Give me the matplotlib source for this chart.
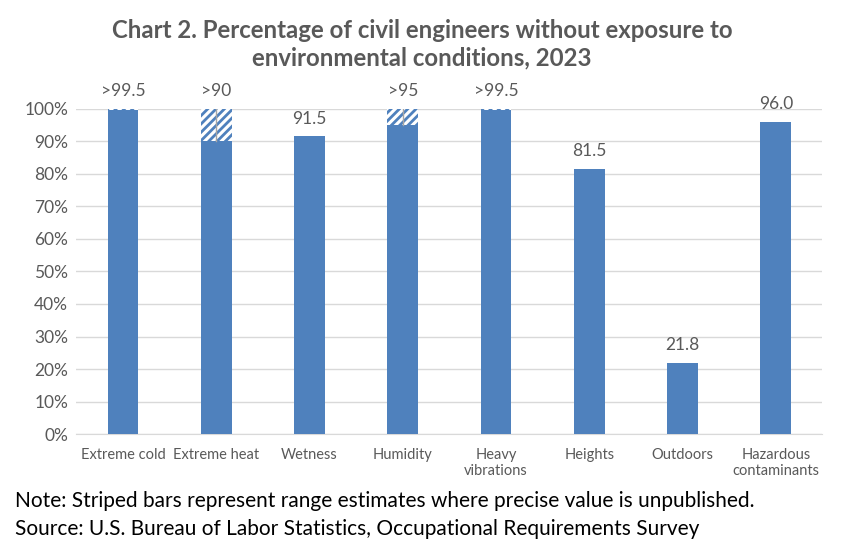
import numpy as np
import matplotlib.pyplot as plt

# ----- data -----
categories = ["Extreme cold", "Extreme heat", "Wetness", "Humidity",
              "Heavy\nvibrations", "Heights", "Outdoors", "Hazardous\ncontaminants"]
values = [99.5, 90.0, 91.5, 95.0, 99.5, 81.5, 21.8, 96.0]      # solid part (lower bound)
upper = [100.0, 100.0, None, 100.0, 100.0, None, None, None]  # range upper bound (striped)
labels = [">99.5", ">90", "91.5", ">95", ">99.5", "81.5", "21.8", "96.0"]

blue = "#4F81BD"
gray = "#595959"

plt.rcParams['font.family'] = ['Lato', 'DejaVu Sans']
plt.rcParams['hatch.color'] = blue
plt.rcParams['hatch.linewidth'] = 2.0

fig = plt.figure(figsize=(8.44, 5.44), dpi=100)
ax = fig.add_axes([0.0905, 0.202, 0.884, 0.598])

x = np.arange(len(categories))
w = 0.33
ax.bar(x, values, width=w, color=blue, zorder=3)

for i, up in enumerate(upper):
    if up is None:
        continue
    ax.bar(x[i], up - values[i], bottom=values[i], width=w, color="white",
           edgecolor=blue, hatch="////", linewidth=0, zorder=3)
    if up - values[i] > 1:
        ax.plot([x[i], x[i]], [values[i], up], color="#a6a6a6", lw=1, zorder=4)

for i, lab in enumerate(labels):
    top = upper[i] if upper[i] is not None else values[i]
    ax.text(x[i], top + 3, lab, ha="center", va="bottom", fontsize=12.5,
            color=gray, clip_on=False)

ax.set_xlim(-0.5, len(categories) - 0.5)
ax.set_ylim(0, 100)
ax.set_yticks(np.arange(0, 101, 10))
ax.set_yticklabels([f"{v}%" for v in range(0, 101, 10)])
ax.set_xticks(x)
ax.set_xticklabels(categories)
ax.tick_params(axis="y", length=0, labelsize=12.5, labelcolor=gray, pad=6)
ax.tick_params(axis="x", length=0, labelsize=10.5, labelcolor=gray, pad=10)
ax.grid(axis="y", color="#d9d9d9", lw=1, zorder=0)
for s in ["top", "right", "left"]:
    ax.spines[s].set_visible(False)
ax.spines["bottom"].set_color("#d9d9d9")

fig.text(0.5, 0.965, "Chart 2. Percentage of civil engineers without exposure to\n"
         "environmental conditions, 2023", ha="center", va="top",
         fontsize=17.3, fontweight="bold", color=gray, linespacing=1.25)

fig.text(0.018, 0.068, "Note: Striped bars represent range estimates where precise value is unpublished.",
         fontsize=15, color="black")
fig.text(0.018, 0.016, "Source: U.S. Bureau of Labor Statistics, Occupational Requirements Survey",
         fontsize=15, color="black")

fig.savefig("out.png", dpi=100)
